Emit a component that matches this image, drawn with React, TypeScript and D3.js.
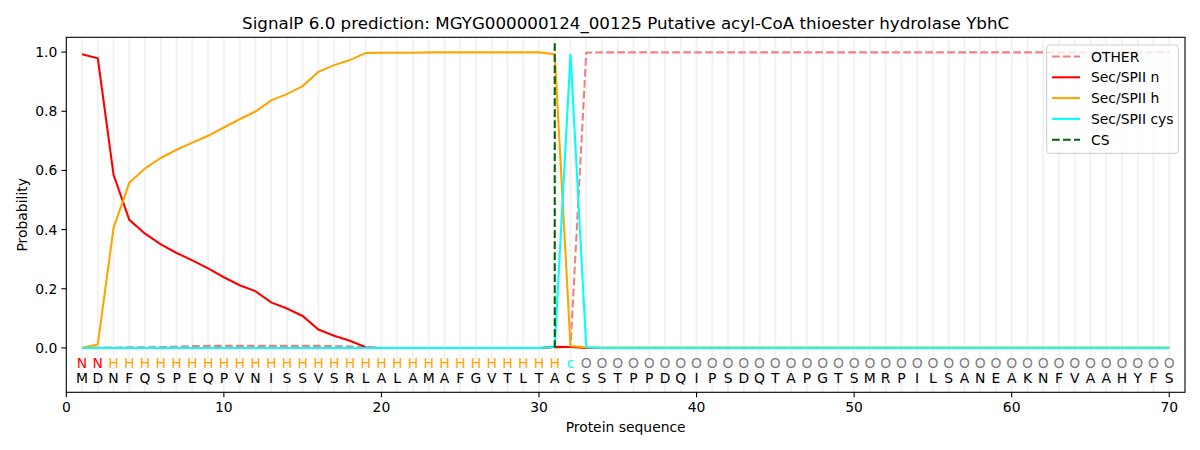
import * as d3 from "d3";

const seq = "MDNFQSPEQPVNISSVSRLALAMAFGVTLTACSSTPPDQIPSDQTAPGTSMRPILSANEAKNFVAAHYFS".split("");
const regions = "NNHHHHHHHHHHHHHHHHHHHHHHHHHHHHHcOOOOOOOOOOOOOOOOOOOOOOOOOOOOOOOOOOOOOO".split("");

const otherVals = [
  0.001, 0.001, 0.001, 0.002, 0.002, 0.003, 0.004, 0.006, 0.007, 0.007,
  0.007, 0.007, 0.007, 0.007, 0.007, 0.007, 0.006, 0.005, 0.001, 0.0,
  0.0, 0.0, 0.0, 0.0, 0.0, 0.0, 0.0, 0.0, 0.0, 0.0,
  0.001, 0.004, 0.998, 0.999, 0.999, 0.999, 0.999, 0.999, 0.999, 0.999,
  0.999, 0.999, 0.999, 0.999, 0.999, 0.999, 0.999, 0.999, 0.999, 0.999,
  0.999, 0.999, 0.999, 0.999, 0.999, 0.999, 0.999, 0.999, 0.999, 0.999,
  0.999, 0.999, 0.999, 0.999, 0.999, 0.999, 0.999, 0.999, 0.999, 0.999,
];
const nVals = [
  0.993, 0.979, 0.585, 0.433, 0.386, 0.350, 0.321, 0.296, 0.269, 0.239,
  0.212, 0.192, 0.154, 0.133, 0.108, 0.062, 0.041, 0.024, 0.002, 0.0,
  0.0, 0.0, 0.0, 0.0, 0.0, 0.0, 0.0, 0.0, 0.0, 0.0,
  0.004, 0.003, 0.0, 0.0, 0.0, 0.0, 0.0, 0.0, 0.0, 0.0,
  0.0, 0.0, 0.0, 0.0, 0.0, 0.0, 0.0, 0.0, 0.0, 0.0,
  0.0, 0.0, 0.0, 0.0, 0.0, 0.0, 0.0, 0.0, 0.0, 0.0,
  0.0, 0.0, 0.0, 0.0, 0.0, 0.0, 0.0, 0.0, 0.0, 0.0,
];
const hVals = [
  0.0, 0.012, 0.406, 0.558, 0.607, 0.642, 0.670, 0.694, 0.717, 0.745,
  0.773, 0.799, 0.837, 0.858, 0.885, 0.933, 0.956, 0.973, 0.997, 0.998,
  0.998, 0.998, 0.999, 0.999, 0.999, 0.999, 0.999, 0.999, 0.999, 0.999,
  0.993, 0.006, 0.002, 0.001, 0.001, 0.001, 0.001, 0.001, 0.001, 0.001,
  0.001, 0.001, 0.001, 0.001, 0.001, 0.001, 0.001, 0.001, 0.001, 0.001,
  0.001, 0.001, 0.001, 0.001, 0.001, 0.001, 0.001, 0.001, 0.001, 0.001,
  0.001, 0.001, 0.001, 0.001, 0.001, 0.001, 0.001, 0.001, 0.001, 0.001,
];
const cysVals = [
  0.0, 0.0, 0.0, 0.0, 0.0, 0.0, 0.0, 0.0, 0.0, 0.0,
  0.0, 0.0, 0.0, 0.0, 0.0, 0.0, 0.0, 0.0, 0.0, 0.0,
  0.0, 0.0, 0.0, 0.0, 0.0, 0.0, 0.0, 0.0, 0.0, 0.0,
  0.003, 0.993, 0.002, 0.0, 0.0, 0.0, 0.0, 0.0, 0.0, 0.0,
  0.0, 0.0, 0.0, 0.0, 0.0, 0.0, 0.0, 0.0, 0.0, 0.0,
  0.0, 0.0, 0.0, 0.0, 0.0, 0.0, 0.0, 0.0, 0.0, 0.0,
  0.0, 0.0, 0.0, 0.0, 0.0, 0.0, 0.0, 0.0, 0.0, 0.0,
];
const csPos = 31;
const xTicks = [0, 10, 20, 30, 40, 50, 60, 70];
const yTicks = [0, 0.2, 0.4, 0.6, 0.8, 1.0];

const regionColor = { N: "red", H: "orange", c: "cyan", O: "grey" };

const series = [
  { name: "OTHER", vals: otherVals, color: "#f08080", dash: "7.7,3.3" },
  { name: "Sec/SPII n", vals: nVals, color: "red", dash: null },
  { name: "Sec/SPII h", vals: hVals, color: "orange", dash: null },
  { name: "Sec/SPII cys", vals: cysVals, color: "cyan", dash: null },
];

export default function App() {
  const W = 1200, H = 450;
  const left = 66.3, right = 1185, top = 37.3, bottom = 392.3;
  const x = d3.scaleLinear().domain([0, 71]).range([left, right]);
  const y = d3.scaleLinear().domain([-0.15, 1.05]).range([bottom, top]);
  const font = "DejaVu Sans, sans-serif";

  const line = d3.line<number>()
    .x((d, i) => x(i + 1))
    .y((d) => y(d));

  const legendItems = [
    ...series.map((s) => ({ name: s.name, color: s.color, dash: s.dash })),
    { name: "CS", color: "#006400", dash: "7.7,3.3" },
  ];

  return (
    <svg width={W} height={H} style={{ position: "absolute", left: 0, top: 0, fontFamily: font }}>
      <rect width={W} height={H} fill="white" />
      {/* grid at every residue */}
      {seq.map((_, i) => (
        <line key={"g" + i} x1={x(i + 1)} x2={x(i + 1)} y1={top} y2={bottom}
          stroke="#f2f2f2" strokeWidth={2} />
      ))}
      {series.map((s) => (
        <path key={s.name} d={line(s.vals) || ""} fill="none" stroke={s.color}
          strokeWidth={2.08} strokeDasharray={s.dash || undefined} />
      ))}
      <line x1={x(csPos)} x2={x(csPos)} y1={y(0)} y2={y(1.035)} stroke="#006400"
        strokeWidth={2.08} strokeDasharray="7.7,3.3" />
      {seq.map((a, i) => (
        <g key={"s" + i}>
          <text x={x(i + 1)} y={y(-0.05) + 5} textAnchor="middle" fontSize={13.9}
            fill={regionColor[regions[i]]}>{regions[i]}</text>
          <text x={x(i + 1)} y={y(-0.1) + 5} textAnchor="middle" fontSize={13.9}
            fill="black">{a}</text>
        </g>
      ))}
      {/* axes frame */}
      <rect x={left} y={top} width={right - left} height={bottom - top} fill="none"
        stroke="black" strokeWidth={1.1} />
      {xTicks.map((t) => (
        <g key={"xt" + t}>
          <line x1={x(t)} x2={x(t)} y1={bottom} y2={bottom + 4.9} stroke="black" strokeWidth={1.1} />
          <text x={x(t)} y={bottom + 20} textAnchor="middle" fontSize={13.9}>{t}</text>
        </g>
      ))}
      {yTicks.map((t) => (
        <g key={"yt" + t}>
          <line x1={left} x2={left - 4.9} y1={y(t)} y2={y(t)} stroke="black" strokeWidth={1.1} />
          <text x={left - 9} y={y(t) + 5} textAnchor="end" fontSize={13.9}>{t.toFixed(1)}</text>
        </g>
      ))}
      <text x={(left + right) / 2} y={29} textAnchor="middle" fontSize={16.7}>
        SignalP 6.0 prediction: MGYG000000124_00125 Putative acyl-CoA thioester hydrolase YbhC
      </text>
      <text x={(left + right) / 2} y={432} textAnchor="middle" fontSize={13.9}>Protein sequence</text>
      <text transform={`translate(27,${(top + bottom) / 2}) rotate(-90)`} textAnchor="middle"
        fontSize={13.9}>Probability</text>
      {/* legend */}
      <rect x={1046.7} y={45} width={131.6} height={108.3} rx={3} fill="white" fillOpacity={0.8}
        stroke="#cccccc" strokeWidth={1} />
      {legendItems.map((it, i) => {
        const cy = 56.5 + i * 20.8;
        return (
          <g key={"l" + it.name}>
            <line x1={1052} x2={1080} y1={cy} y2={cy} stroke={it.color} strokeWidth={2.08}
              strokeDasharray={it.dash || undefined} />
            <text x={1091} y={cy + 5} fontSize={13.9}>{it.name}</text>
          </g>
        );
      })}
    </svg>
  );
}
